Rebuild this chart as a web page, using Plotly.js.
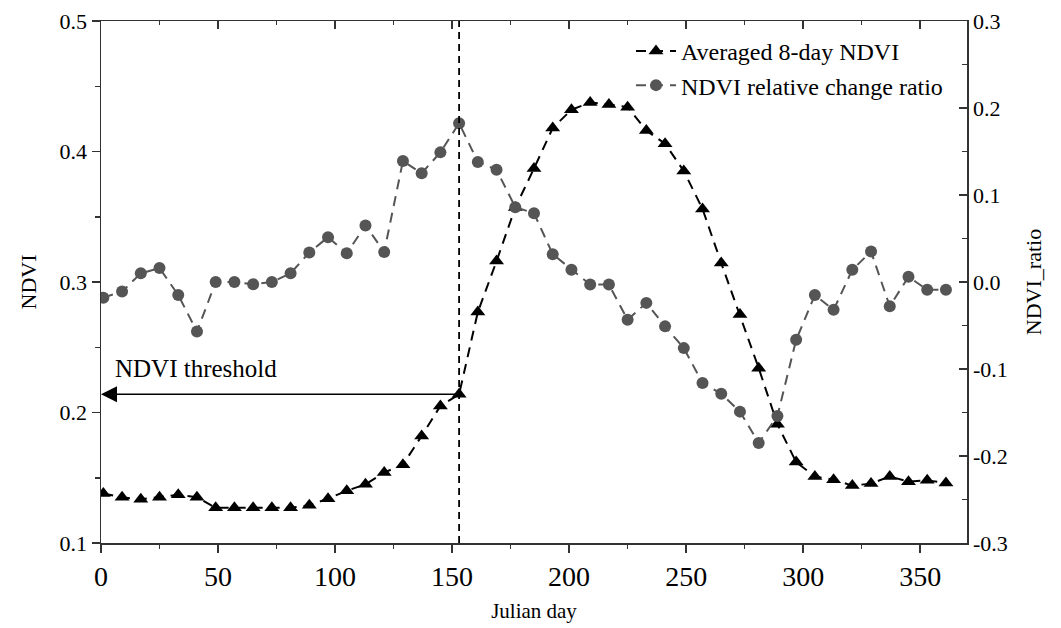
<!DOCTYPE html>
<html>
<head>
<meta charset="utf-8">
<script src="https://cdn.plot.ly/plotly-3.0.1.min.js"></script>
<style>html,body{margin:0;padding:0;background:#fff;}#chart{width:1061px;height:628px;}</style>
</head>
<body>
<div id="chart"></div>
<script>
// Julian days (8-day composites)
const days = [1,9,17,25,33,41,49,57,65,73,81,89,97,105,113,121,129,137,145,153,161,169,177,185,193,201,209,217,225,233,241,249,257,265,273,281,289,297,305,313,321,329,337,345,353,361];
// Averaged 8-day NDVI
const ndvi = [0.138,0.135,0.1335,0.135,0.137,0.135,0.127,0.127,0.127,0.127,0.127,0.129,0.134,0.140,0.145,0.154,0.160,0.182,0.205,0.214,0.277,0.316,0.357,0.387,0.418,0.432,0.4375,0.436,0.434,0.416,0.406,0.385,0.356,0.3145,0.275,0.234,0.191,0.162,0.151,0.1485,0.144,0.1455,0.151,0.147,0.148,0.146];
// NDVI relative change ratio
const ratio = [-0.018,-0.011,0.010,0.016,-0.015,-0.057,0.0,0.0,-0.0025,0.0,0.010,0.034,0.0515,0.033,0.065,0.0346,0.139,0.125,0.149,0.1825,0.138,0.129,0.086,0.079,0.032,0.014,-0.003,-0.003,-0.0435,-0.024,-0.051,-0.076,-0.116,-0.1285,-0.149,-0.185,-0.154,-0.0665,-0.015,-0.032,0.014,0.035,-0.028,0.006,-0.009,-0.009];

const seriesNames = ["Averaged 8-day NDVI", "NDVI relative change ratio"];
const thresholdDay = 153;
const thresholdLabel = "NDVI threshold";

const xTickVals = [0,50,100,150,200,250,300,350];
const xTickText = ["0","50","100","150","200","250","300","350"];
const yTickVals = [0.1,0.2,0.3,0.4,0.5];
const yTickText = ["0.1","0.2","0.3","0.4","0.5"];
const y2TickVals = [-0.3,-0.2,-0.1,0.0,0.1,0.2,0.3];
const y2TickText = ["-0.3","-0.2","-0.1","0.0","0.1","0.2","0.3"];

const thrIdx = days.indexOf(thresholdDay);
const thrValue = ndvi[thrIdx];

const FONT = 'Liberation Serif, Times New Roman, serif';
const AX = '#333333';

const traces = [
  {
    x: days, y: ndvi, name: seriesNames[0], type: 'scatter', mode: 'lines+markers',
    yaxis: 'y', xaxis: 'x',
    line: {color: '#000000', width: 2, dash: '10px,7px'},
    marker: {symbol: 'triangle-up', size: 13, color: '#000000'}
  },
  {
    x: days, y: ratio, name: seriesNames[1], type: 'scatter', mode: 'lines+markers',
    yaxis: 'y2', xaxis: 'x',
    line: {color: '#555555', width: 2, dash: '10px,7px'},
    marker: {symbol: 'circle', size: 12, color: '#555555'}
  }
];

const layout = {
  width: 1061, height: 628,
  paper_bgcolor: '#ffffff', plot_bgcolor: '#ffffff',
  margin: {l: 101, r: 94, t: 21, b: 85, pad: 0},
  font: {family: FONT, color: '#000000', size: 20},
  showlegend: true,
  legend: {
    x: 0.612, y: 0.985, xanchor: 'left', yanchor: 'top',
    bgcolor: 'rgba(0,0,0,0)', borderwidth: 0,
    font: {family: FONT, size: 24, color: '#000'},
    itemwidth: 40
  },
  xaxis: {
    range: [0, 370], showgrid: false, zeroline: false,
    tickmode: 'array', tickvals: xTickVals, ticktext: xTickText,
    ticks: 'outside', ticklen: 8, tickwidth: 1.5, tickcolor: AX,
    minor: {dtick: 25, ticks: 'outside', ticklen: 4, tickwidth: 1.5, tickcolor: AX},
    showline: true, linecolor: AX, linewidth: 1.5, mirror: false,
    tickfont: {family: FONT, size: 28, color: '#000'},
    title: {text: 'Julian day', font: {family: FONT, size: 21, color: '#000'}, standoff: 12}
  },
  xaxis2: {
    overlaying: 'x', side: 'top', matches: 'x', range: [0, 370],
    showgrid: false, zeroline: false, showticklabels: false,
    tickmode: 'array', tickvals: xTickVals,
    ticks: 'inside', ticklen: 8, tickwidth: 1.5, tickcolor: AX,
    minor: {dtick: 25, ticks: 'inside', ticklen: 4, tickwidth: 1.5, tickcolor: AX},
    showline: true, linecolor: AX, linewidth: 1.5
  },
  yaxis: {
    range: [0.1, 0.5], showgrid: false, zeroline: false,
    tickmode: 'array', tickvals: yTickVals, ticktext: yTickText,
    ticks: 'outside', ticklen: 8, tickwidth: 1.5, tickcolor: AX,
    minor: {dtick: 0.05, ticks: 'outside', ticklen: 5, tickwidth: 1.5, tickcolor: AX},
    showline: true, linecolor: AX, linewidth: 1.5,
    tickfont: {family: FONT, size: 22, color: '#000'},
    title: {text: 'NDVI', font: {family: FONT, size: 22, color: '#000'}, standoff: 17}
  },
  yaxis2: {
    overlaying: 'y', side: 'right', range: [-0.3, 0.3], showgrid: false, zeroline: false,
    tickmode: 'array', tickvals: y2TickVals, ticktext: y2TickText,
    ticks: 'inside', ticklen: 8, tickwidth: 1.5, tickcolor: AX,
    minor: {dtick: 0.05, ticks: 'inside', ticklen: 5, tickwidth: 1.5, tickcolor: AX},
    showline: true, linecolor: AX, linewidth: 1.5,
    tickfont: {family: FONT, size: 22, color: '#000'},
    title: {text: 'NDVI_ratio', font: {family: FONT, size: 22, color: '#000'}, standoff: 19}
  },
  shapes: [
    {type: 'line', xref: 'x', yref: 'paper', x0: thresholdDay, x1: thresholdDay, y0: 0, y1: 1,
     line: {color: '#000', width: 1.8, dash: '7px,5px'}}
  ],
  annotations: [
    {x: 0, y: thrValue, xref: 'x', yref: 'y', ax: thresholdDay, ay: thrValue, axref: 'x', ayref: 'y',
     showarrow: true, arrowhead: 2, arrowsize: 2, arrowwidth: 1.6, arrowcolor: '#000', text: ''},
    {x: 5, y: 0.2335, xref: 'x', yref: 'y', xanchor: 'left', yanchor: 'middle', showarrow: false,
     text: thresholdLabel, font: {family: FONT, size: 25, color: '#000'}}
  ]
};

// invisible trace to activate the top axis
traces.push({x: [0], y: [0.1], xaxis: 'x2', yaxis: 'y', mode: 'markers', marker: {opacity: 0}, showlegend: false, hoverinfo: 'skip'});

Plotly.newPlot('chart', traces, layout, {staticPlot: true, displayModeBar: false});
</script>
</body>
</html>
